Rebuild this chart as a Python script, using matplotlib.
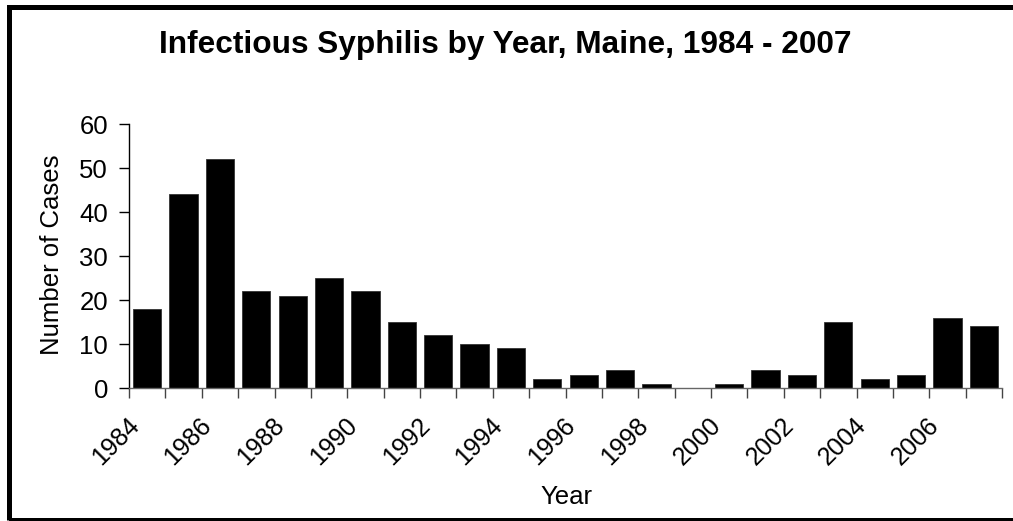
import numpy as np
import matplotlib.pyplot as plt
from matplotlib.patches import Rectangle
from matplotlib.transforms import ScaledTranslation

plt.rcParams['font.family'] = ['Liberation Sans', 'DejaVu Sans']

anos = list(range(1984, 2008))
casos = [18, 44, 52, 22, 21, 25, 22, 15, 12, 10, 9, 2, 3, 4, 1, 0, 1, 4, 3, 15, 2, 3, 16, 14]
rotulos = [str(a) if a % 2 == 0 else '' for a in anos]

W, H = 1013, 521
fig = plt.figure(figsize=(W / 100, H / 100), dpi=100)
# area do grafico em pixels: x 129..1002, y 124..388
ax = fig.add_axes([129 / W, 1 - 388 / H, 873 / W, 264 / H])

x = np.arange(len(anos))
ax.bar(x, casos, width=0.78, color='black', edgecolor='#333333', linewidth=0.6)

ax.set_xlim(-0.5, len(anos) - 0.5)
ax.set_ylim(0, 60)
ax.set_yticks(range(0, 61, 10))
ax.tick_params(axis='y', labelsize=18.5, length=7, direction='out', width=1, pad=8)

# ticks nas divisas das categorias, rotulos no centro
ax.set_xticks(np.arange(len(anos) + 1) - 0.5)
ax.set_xticklabels([])
ax.set_xticks(x, minor=True)
ax.set_xticklabels(rotulos, minor=True, rotation=45, ha='right', va='center',
                   rotation_mode='anchor', fontsize=18)
ax.tick_params(axis='x', which='major', length=7, width=1, direction='out', color='#444444')
ax.tick_params(axis='x', which='minor', length=0, pad=24)
desloc = ScaledTranslation(-12 / 100, 0, fig.dpi_scale_trans)
for lab in ax.get_xticklabels(minor=True):
    lab.set_transform(lab.get_transform() + desloc)

for s in ['top', 'right']:
    ax.spines[s].set_visible(False)
ax.spines['left'].set_linewidth(1)
ax.spines['bottom'].set_linewidth(1)
ax.spines['bottom'].set_color('#666666')

fig.text(52 / W, 1 - 255 / H, 'Number of Cases', rotation=90,
         ha='center', va='center', fontsize=18.5)
fig.text(566 / W, 1 - 497 / H, 'Year', ha='center', va='center', fontsize=18.5)

fig.text(505 / W, 1 - 45 / H, 'Infectious Syphilis by Year, Maine, 1984 - 2007',
         ha='center', va='center', fontsize=22.8, fontweight='bold')

# moldura (o lado direito fica fora da figura)
fig.patches.append(Rectangle((8.5 / W, 1 - 519.5 / H), 1020 / W, 513 / H,
                             transform=fig.transFigure, fill=False,
                             edgecolor='black', linewidth=3.6))

fig.savefig('out.png', dpi=100)
